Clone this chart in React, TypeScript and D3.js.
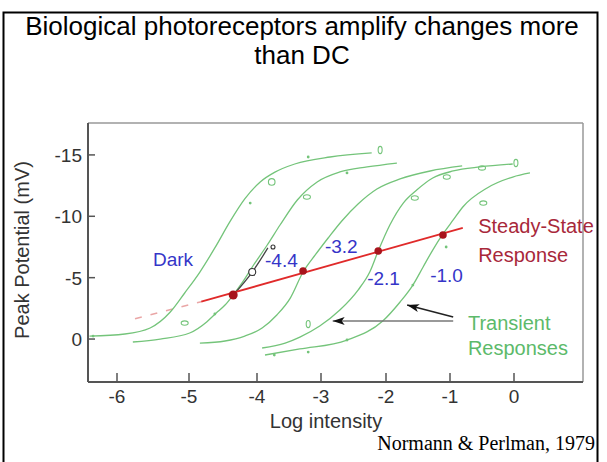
import React from "react";
import * as d3 from "d3";

const W = 607;
const H = 462;

// axis ticks
const xTicks = [-6, -5, -4, -3, -2, -1, 0];
const yTicks = [0, -5, -10, -15];

// transient response curves, [log intensity, peak potential mV]
const darkCurve: [number, number][] = [
  [-6.38, -0.24], [-5.89, -0.41], [-5.54, -0.9], [-5.26, -2.2], [-5.06, -3.75],
  [-4.84, -5.46], [-4.62, -7.42], [-4.4, -9.54], [-4.18, -11.41], [-3.95, -12.8],
  [-3.72, -13.6], [-3.41, -14.26], [-2.86, -14.83], [-2.22, -15.16],
];
const curve44: [number, number][] = [
  [-5.78, 0.24], [-5.4, 0], [-4.99, -0.49], [-4.74, -1.39], [-4.6, -2.12],
  [-4.47, -2.77], [-4.35, -3.59], [-4.21, -4.65], [-4.06, -5.95], [-3.84, -7.66],
  [-3.64, -9.29], [-3.37, -11.33], [-3.06, -12.8], [-2.71, -13.61], [-2.29, -14.02],
  [-1.83, -14.34],
];
const curve32: [number, number][] = [
  [-4.84, 0.33], [-4.47, 0.16], [-4.18, -0.24], [-3.92, -0.9], [-3.69, -1.96],
  [-3.48, -3.34], [-3.28, -5.46], [-3.09, -6.85], [-2.89, -8.23], [-2.68, -9.62],
  [-2.43, -11.0], [-2.14, -12.22], [-1.78, -13.04], [-1.31, -13.69], [-0.81, -14.1],
];
const curve21: [number, number][] = [
  [-3.92, 0.73], [-3.56, 0.33], [-3.33, -0.16], [-3.02, -1.06], [-2.71, -2.36],
  [-2.43, -3.99], [-2.25, -5.46], [-2.12, -7.17], [-1.94, -9.29], [-1.73, -11.08],
  [-1.52, -12.14], [-1.27, -13.12], [-0.95, -13.69], [-0.53, -14.02], [-0.02, -14.26],
];
const curve10: [number, number][] = [
  [-3.875, 1.3], [-3.33, 0.81], [-2.6, 0.08], [-2.05, -1.47], [-1.78, -3.02],
  [-1.58, -4.4], [-1.42, -5.87], [-1.27, -7.25], [-1.11, -8.56], [-0.95, -9.7],
  [-0.8, -10.76], [-0.42, -12.31], [-0.02, -13.2], [0.25, -13.53],
];
const curves = [darkCurve, curve44, curve32, curve21, curve10];

// dark adapted segment drawn in black on the -4.4 curve
const blackSegment: [number, number][] = [[-4.35, -3.59], [-4.07, -5.46], [-3.83, -7.42]];
const blackPoints: [number, number, number][] = [[-4.07, -5.46, 3.5], [-3.75, -7.5, 2]];

// steady state points
const steadyX = [-4.35, -3.28, -2.12, -1.11];
const steadyY = [-3.59, -5.54, -7.17, -8.48];
const steadyLineX = [-4.82, -0.8];
const steadyDashX = [-5.75, -4.82];

// measured points scattered round the curves: x, y, kind
const pointsX = [-6.33, -5.06, -4.1, -3.77, -3.2, -2.09, -4.62, -3.22, -2.6, -1.55, -1.05, -0.5, 0.03, -0.48, -1.06, -1.58, -3.2, -3.73, -3.2, -2.6];
const pointsY = [-0.24, -1.3, -11.08, -12.8, -14.83, -15.4, -2.04, -11.57, -13.53, -11.49, -13.2, -13.94, -14.34, -11.08, -7.5, -4.4, -1.22, 1.3, 1.06, 0.08];
const pointsKind = ["dot", "h", "dot", "o", "dot", "v", "dot", "h", "dot", "h", "h", "h", "v", "h", "dot", "dot", "v", "dot", "dot", "dot"];

const curveLabels = ["Dark", "-4.4", "-3.2", "-2.1", "-1.0"];
const curveLabelX = [-5.5, -3.875, -2.94, -2.29, -1.31];
const curveLabelY = [-5.95, -5.87, -7.0, -4.4, -4.65];

const SANS = "'Liberation Sans', Arial, Helvetica, sans-serif";
const GREEN = "#74c47a";

export default function App() {
  // the printed axis is slightly uneven, so map through every tick
  const x = d3
    .scaleLinear()
    .domain([-6.4, -6, -5, -4, -3, -2, -1, 0, 1.08])
    .range([88, 117, 189, 257, 321, 386, 450, 514, 583]);
  const y = d3.scaleLinear().domain([3.5, -17.6]).range([382, 123]);

  const line = d3
    .line<[number, number]>()
    .x((d) => x(d[0]))
    .y((d) => y(d[1]))
    .curve(d3.curveMonotoneX);

  // least squares through the steady state points
  const mx = d3.mean(steadyX)!;
  const my = d3.mean(steadyY)!;
  const slope =
    d3.sum(steadyX, (v, i) => (v - mx) * (steadyY[i] - my)) /
    d3.sum(steadyX, (v) => (v - mx) * (v - mx));
  const fy = (v: number) => my + slope * (v - mx);

  const x0 = x(-6.4), x1 = x(1.08);
  const y0 = y(-17.6), y1 = y(3.5);

  return (
    <div style={{ position: "absolute", left: 0, top: 0 }}>
      <svg width={W} height={H} style={{ display: "block", background: "#fff" }}>
        <defs>
          <marker id="ah" viewBox="0 0 12 8" refX="12" refY="4" markerUnits="userSpaceOnUse" markerWidth="13" markerHeight="8" orient="auto">
            <path d="M12,4 L0,0 L3,4 L0,8 Z" fill="#111" />
          </marker>
        </defs>
        <rect x={3.5} y={12.5} width={594} height={470} fill="none" stroke="#000" strokeWidth={2} />

        <text x={302} y={35} textAnchor="middle" fontFamily={SANS} fontSize={26} fill="#000">
          Biological photoreceptors amplify changes more
        </text>
        <text x={302} y={64} textAnchor="middle" fontFamily={SANS} fontSize={26} fill="#000">
          than DC
        </text>

        {/* frame of the plot */}
        <line x1={x0} y1={y0} x2={x1} y2={y0} stroke="#999" strokeWidth={1.5} />
        <line x1={x1} y1={y0} x2={x1} y2={y1} stroke="#999" strokeWidth={1.5} />
        <line x1={x0} y1={y0} x2={x0} y2={y1} stroke="#555" strokeWidth={2} />
        <line x1={x0} y1={y1} x2={x1} y2={y1} stroke="#555" strokeWidth={2} />

        {xTicks.map((t) => (
          <g key={"x" + t}>
            <line x1={x(t)} x2={x(t)} y1={y1} y2={y1 - 9} stroke="#555" strokeWidth={1.5} />
            <text x={x(t)} y={403} textAnchor="middle" fontFamily={SANS} fontSize={19} fill="#333">
              {t === 0 ? "0" : "-" + Math.abs(t)}
            </text>
          </g>
        ))}
        {yTicks.map((t) => (
          <g key={"y" + t}>
            <line x1={x0} x2={x0 + 7} y1={y(t)} y2={y(t)} stroke="#555" strokeWidth={1.5} />
            <text x={82} y={y(t)} dy="0.36em" textAnchor="end" fontFamily={SANS} fontSize={19} fill="#333">
              {t === 0 ? "0" : "-" + Math.abs(t)}
            </text>
          </g>
        ))}
        <text x={326} y={428} textAnchor="middle" fontFamily={SANS} fontSize={20} fill="#333">
          Log intensity
        </text>
        <text transform="translate(29,250) rotate(-90)" textAnchor="middle" fontFamily={SANS} fontSize={20} fill="#333">
          Peak Potential (mV)
        </text>

        {/* dashed lead in of the steady state line */}
        <line
          x1={x(steadyDashX[0])} y1={y(fy(steadyDashX[0]))}
          x2={x(steadyDashX[1])} y2={y(fy(steadyDashX[1]))}
          stroke="#eaa6a6" strokeWidth={1.5} strokeDasharray="7,9"
        />

        {curves.map((c, i) => (
          <path key={i} d={line(c)!} fill="none" stroke={GREEN} strokeWidth={1.3} />
        ))}
        <path d={line(blackSegment)!} fill="none" stroke="#444" strokeWidth={1.3} />

        {pointsX.map((px, i) => {
          const k = pointsKind[i];
          const cx = x(px), cy = y(pointsY[i]);
          if (k === "dot") return <circle key={i} cx={cx} cy={cy} r={1.4} fill={GREEN} />;
          if (k === "o") return <circle key={i} cx={cx} cy={cy} r={3.3} fill="none" stroke={GREEN} strokeWidth={1.1} />;
          if (k === "h") return <ellipse key={i} cx={cx} cy={cy} rx={3.5} ry={2.2} fill="none" stroke={GREEN} strokeWidth={1.1} />;
          return <ellipse key={i} cx={cx} cy={cy} rx={2} ry={3.6} fill="none" stroke={GREEN} strokeWidth={1.1} />;
        })}
        {blackPoints.map((p, i) => (
          <circle key={"b" + i} cx={x(p[0])} cy={y(p[1])} r={p[2]} fill="#fff" stroke="#333" strokeWidth={1.1} />
        ))}

        <line
          x1={x(steadyLineX[0])} y1={y(fy(steadyLineX[0]))}
          x2={x(steadyLineX[1])} y2={y(fy(steadyLineX[1]))}
          stroke="#e02a2a" strokeWidth={1.8}
        />
        {steadyX.map((v, i) => (
          <circle key={"s" + i} cx={x(v)} cy={y(steadyY[i])} r={i === 0 ? 4.5 : 3.8} fill="#a8141c" />
        ))}

        {curveLabels.map((l, i) => (
          <text key={l} x={x(curveLabelX[i])} y={y(curveLabelY[i])} fontFamily={SANS} fontSize={19} fill="#3535c8">
            {l}
          </text>
        ))}

        <text x={x(-0.56)} y={y(-8.64)} fontFamily={SANS} fontSize={20} fill="#a8283a">Steady-State</text>
        <text x={x(-0.56)} y={y(-6.28)} fontFamily={SANS} fontSize={20} fill="#a8283a">Response</text>

        <line x1={x(-0.95)} y1={y(-1.47)} x2={x(-2.82)} y2={y(-1.47)} stroke="#777" strokeWidth={1.6} markerEnd="url(#ah)" />
        <line x1={x(-0.95)} y1={y(-1.79)} x2={x(-1.67)} y2={y(-2.77)} stroke="#222" strokeWidth={1.6} markerEnd="url(#ah)" />
        <text x={x(-0.72)} y={y(-0.73)} fontFamily={SANS} fontSize={20} fill="#5cba6a">Transient</text>
        <text x={x(-0.72)} y={y(1.3)} fontFamily={SANS} fontSize={20} fill="#5cba6a">Responses</text>

        <text x={595} y={450} textAnchor="end" fontFamily="'Liberation Serif', 'Times New Roman', serif" fontSize={20} fill="#000">
          Normann &amp; Perlman, 1979
        </text>
      </svg>
    </div>
  );
}
